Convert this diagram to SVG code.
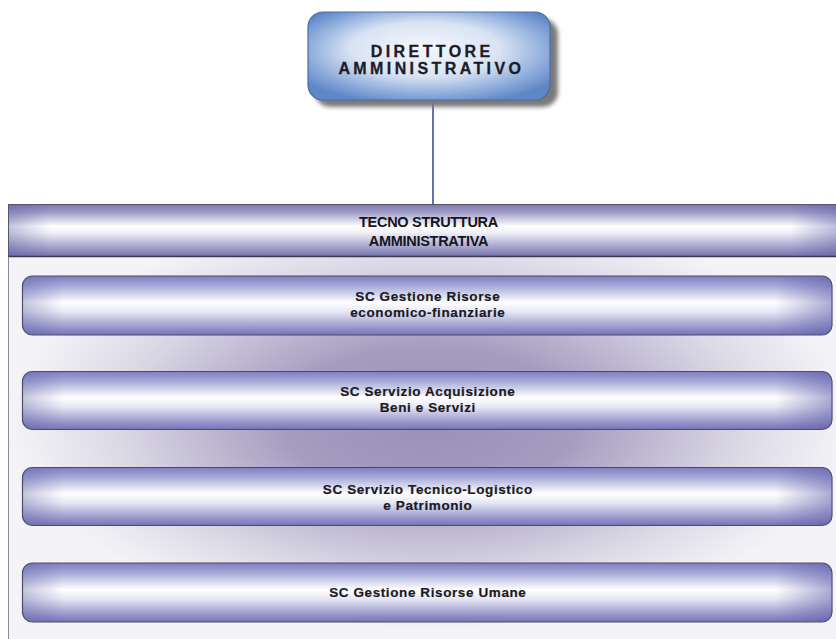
<svg xmlns="http://www.w3.org/2000/svg" width="836" height="639" viewBox="0 0 836 639">
  <defs>
    <style>
      .t1 { font-family: "Liberation Sans", Arial, sans-serif; font-weight: bold; font-size: 16px; letter-spacing: 3.4px; fill: #1c1c28; text-anchor: middle; stroke: #1c1c28; stroke-width: 0.3; }
      .th { font-family: "Liberation Sans", Arial, sans-serif; font-weight: bold; font-size: 14.5px; letter-spacing: -0.3px; fill: #15151f; text-anchor: middle; }
      .tb { font-family: "Liberation Sans", Arial, sans-serif; font-weight: bold; font-size: 13.5px; letter-spacing: 0.6px; fill: #1a1a22; text-anchor: middle; stroke: #1a1a22; stroke-width: 0.2; }
      .box { stroke: #4a4a68; stroke-width: 1.2; }
      .conn { stroke: #3c4fa0; stroke-width: 1.6; fill: none; }
    </style>
    <radialGradient id="topFill" cx="0.5" cy="0.45" r="0.62" fx="0.47" fy="0.4">
      <stop offset="0" stop-color="#f6f8fc"/>
      <stop offset="0.5" stop-color="#d8e3f3"/>
      <stop offset="0.82" stop-color="#88a8d9"/>
      <stop offset="1" stop-color="#5f86c6"/>
    </radialGradient>
    <filter id="blur" x="-10%" y="-10%" width="120%" height="130%">
      <feGaussianBlur stdDeviation="2"/>
    </filter>
    <linearGradient id="band" x1="0" y1="0" x2="0" y2="1">
      <stop offset="0" stop-color="#7c79ad"/>
      <stop offset="0.14" stop-color="#9c99c6"/>
      <stop offset="0.42" stop-color="#ffffff"/>
      <stop offset="0.55" stop-color="#eeeef6"/>
      <stop offset="0.8" stop-color="#aaa8d0"/>
      <stop offset="1" stop-color="#7471a8"/>
    </linearGradient>
    <linearGradient id="boxFill" x1="0" y1="0" x2="0" y2="1">
      <stop offset="0" stop-color="#7e80bf"/>
      <stop offset="0.15" stop-color="#a2a4d6"/>
      <stop offset="0.45" stop-color="#ffffff"/>
      <stop offset="0.6" stop-color="#e8e8f5"/>
      <stop offset="0.85" stop-color="#9e9ed0"/>
      <stop offset="1" stop-color="#7374b4"/>
    </linearGradient>
    <linearGradient id="ends" x1="0" y1="0" x2="1" y2="0">
      <stop offset="0" stop-color="#5a5aa0" stop-opacity="0.35"/>
      <stop offset="0.05" stop-color="#5a5aa0" stop-opacity="0"/>
      <stop offset="0.93" stop-color="#5a5aa0" stop-opacity="0"/>
      <stop offset="1" stop-color="#5a5aa8" stop-opacity="0.5"/>
    </linearGradient>
    <radialGradient id="bodyFill" cx="430" cy="420" r="420" gradientUnits="userSpaceOnUse" gradientTransform="translate(430 420) scale(1 0.5) translate(-430 -420)">
      <stop offset="0" stop-color="#9890b6"/>
      <stop offset="0.35" stop-color="#a59dc0"/>
      <stop offset="0.75" stop-color="#dcd9e6"/>
      <stop offset="1" stop-color="#f4f4f7"/>
    </radialGradient>
  </defs>

  <rect x="0" y="0" width="836" height="639" fill="#ffffff"/>

  <g id="connectors">
    <line class="conn" x1="433" y1="100" x2="433" y2="205"/>
  </g>

  <g id="direttore">
    <rect x="315" y="19" width="243" height="88" rx="15" fill="#7a7a7a" filter="url(#blur)"/>
    <rect x="308" y="12" width="242" height="88" rx="15" fill="url(#topFill)" stroke="#4d6ca8" stroke-width="1.2"/>
    <text class="t1" x="432.2" y="56.5">DIRETTORE</text>
    <text class="t1" x="431.4" y="74">AMMINISTRATIVO</text>
  </g>

  <g id="tecnostruttura">
    <rect x="8.5" y="256" width="840" height="400" fill="url(#bodyFill)" stroke="#8a8a94" stroke-width="1"/>
    <rect x="8.5" y="204.5" width="840" height="52" fill="url(#band)" stroke="#555566" stroke-width="1"/>
    <rect x="8.5" y="204.5" width="840" height="52" fill="url(#ends)"/>
    <line x1="8.5" y1="256.5" x2="836" y2="256.5" stroke="#3a3a50" stroke-width="1.5"/>
    <text class="th" x="428.5" y="226.5">TECNO STRUTTURA</text>
    <text class="th" x="428.5" y="246">AMMINISTRATIVA</text>
  </g>

  <g id="sc-risorse-economiche">
    <rect class="box" x="22.5" y="276" width="809.5" height="59" rx="10" fill="url(#boxFill)"/>
    <rect x="22.5" y="276" width="809.5" height="59" rx="10" fill="url(#ends)"/>
    <text class="tb" x="427.8" y="301">SC Gestione Risorse</text>
    <text class="tb" x="427.8" y="317">economico-finanziarie</text>
  </g>

  <g id="sc-acquisizione">
    <rect class="box" x="22.5" y="371.5" width="809.5" height="58" rx="10" fill="url(#boxFill)"/>
    <rect x="22.5" y="371.5" width="809.5" height="58" rx="10" fill="url(#ends)"/>
    <text class="tb" x="427.8" y="396">SC Servizio Acquisizione</text>
    <text class="tb" x="427.8" y="411.5">Beni e Servizi</text>
  </g>

  <g id="sc-tecnico-logistico">
    <rect class="box" x="22.5" y="467.5" width="809.5" height="58" rx="10" fill="url(#boxFill)"/>
    <rect x="22.5" y="467.5" width="809.5" height="58" rx="10" fill="url(#ends)"/>
    <text class="tb" x="427.8" y="494">SC Servizio Tecnico-Logistico</text>
    <text class="tb" x="427.8" y="510">e Patrimonio</text>
  </g>

  <g id="sc-risorse-umane">
    <rect class="box" x="22.5" y="563" width="809.5" height="59" rx="10" fill="url(#boxFill)"/>
    <rect x="22.5" y="563" width="809.5" height="59" rx="10" fill="url(#ends)"/>
    <text class="tb" x="427.8" y="596.5">SC Gestione Risorse Umane</text>
  </g>
</svg>
